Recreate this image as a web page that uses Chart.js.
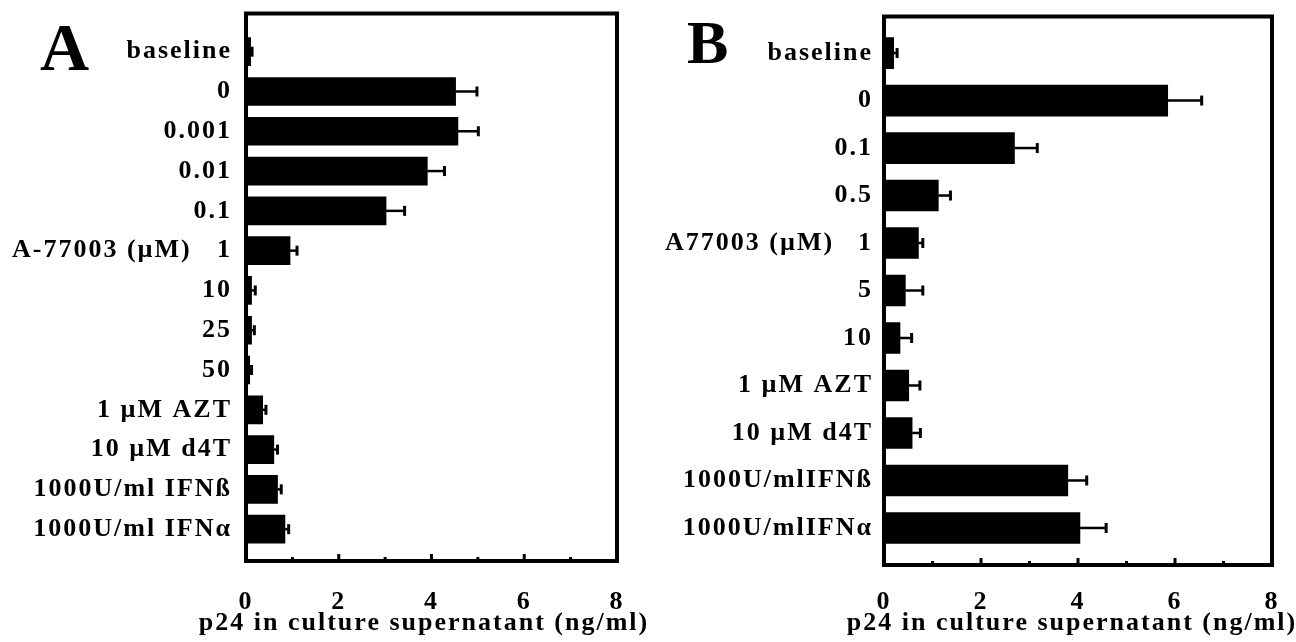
<!DOCTYPE html>
<html>
<head>
<meta charset="utf-8">
<script src="https://cdn.jsdelivr.net/npm/chart.js@4"></script>
<style>
  body { margin: 0; background: #fff; }
  #wrap { position: relative; width: 1296px; height: 642px; }
  canvas { position: absolute; top: 0; }
  #chartA { left: 0; }
  #chartB { left: 650px; }
</style>
</head>
<body>
<div id="wrap">
  <canvas id="chartA" width="650" height="642"></canvas>
  <canvas id="chartB" width="646" height="642"></canvas>
</div>
<script>
// panel A
const labelsA = ['baseline', '0', '0.001', '0.01', '0.1', '1', '10', '25', '50',
  '1 µM AZT', '10 µM d4T', '1000U/ml IFNß', '1000U/ml IFNα'];
const valuesA = [0.1, 4.52, 4.57, 3.91, 3.02, 0.95, 0.12, 0.12, 0.08, 0.36, 0.6, 0.68, 0.84];
const errorsA = [0.03, 0.46, 0.44, 0.37, 0.4, 0.15, 0.08, 0.06, 0.04, 0.07, 0.08, 0.08, 0.08];

// panel B
const labelsB = ['baseline', '0', '0.1', '0.5', '1', '5', '10',
  '1 µM AZT', '10 µM d4T', '1000U/mlIFNß', '1000U/mlIFNα'];
const valuesB = [0.2, 5.85, 2.69, 1.12, 0.71, 0.44, 0.33, 0.51, 0.58, 3.79, 4.04];
const errorsB = [0.07, 0.7, 0.47, 0.25, 0.09, 0.36, 0.24, 0.23, 0.17, 0.39, 0.54];

const xTicks = [0, 2, 4, 6, 8];
const axisTitle = 'p24 in culture supernatant (ng/ml)';
const serif = '"Liberation Serif", "Times New Roman", serif';
const fontSize = 26;

Chart.defaults.font.family = serif;
Chart.defaults.font.weight = 'bold';
Chart.defaults.color = '#000';

const figPlugin = {
  id: 'fig',
  beforeDraw(chart) {
    chart.ctx.letterSpacing = '2px';
  },
  afterDatasetsDraw(chart, args, o) {
    const ctx = chart.ctx;
    const xs = chart.scales.x, ys = chart.scales.y;
    const a = chart.chartArea;
    ctx.save();
    ctx.strokeStyle = '#000';
    // error bars
    o.values.forEach((v, i) => {
      const y = ys.getPixelForValue(i);
      const x0 = xs.getPixelForValue(v);
      const x1 = xs.getPixelForValue(v + o.errors[i]);
      ctx.lineWidth = 2.5;
      ctx.beginPath();
      ctx.moveTo(x0, y);
      ctx.lineTo(x1, y);
      ctx.stroke();
      ctx.lineWidth = 3;
      ctx.beginPath();
      ctx.moveTo(x1, y - 5);
      ctx.lineTo(x1, y + 5);
      ctx.stroke();
    });
    // inward ticks on the bottom axis
    for (let t = 1; t < 8; t++) {
      const x = xs.getPixelForValue(t);
      ctx.lineWidth = 3;
      ctx.beginPath();
      ctx.moveTo(x, a.bottom);
      ctx.lineTo(x, a.bottom - (t % 2 ? 4 : 7));
      ctx.stroke();
    }
    // frame
    ctx.lineWidth = 4;
    ctx.strokeRect(a.left, a.top, a.right - a.left, a.bottom - a.top);
    // group label + axis title
    ctx.fillStyle = '#000';
    ctx.font = 'bold ' + fontSize + 'px ' + serif;
    ctx.textAlign = 'left';
    ctx.textBaseline = 'middle';
    ctx.fillText(o.group, o.groupX, ys.getPixelForValue(o.groupIndex));
    ctx.textAlign = 'center';
    ctx.fillText(axisTitle, o.titleX, o.titleY);
    // panel letter
    ctx.letterSpacing = '0px';
    ctx.font = 'bold ' + o.letterSize + 'px ' + serif;
    ctx.textAlign = 'left';
    ctx.textBaseline = 'alphabetic';
    ctx.fillText(o.letter, o.letterX, o.letterY);
    ctx.restore();
  }
};

function makePanel(id, labels, values, errors, cfg) {
  new Chart(document.getElementById(id), {
    type: 'bar',
    data: {
      datasets: [{
        data: values.map((v, i) => ({ x: v, y: i })),
        backgroundColor: '#000',
        borderWidth: 0,
        barThickness: cfg.barThickness
      }]
    },
    options: {
      indexAxis: 'y',
      responsive: false,
      animation: false,
      devicePixelRatio: 1,
      layout: { padding: { top: cfg.top, right: cfg.right, left: 0, bottom: 0 } },
      plugins: {
        legend: { display: false },
        tooltip: { enabled: false },
        fig: {
          values: values, errors: errors,
          group: cfg.group, groupX: cfg.groupX, groupIndex: labels.indexOf('1'),
          titleX: cfg.titleX, titleY: 623,
          letter: cfg.letter, letterX: cfg.letterX, letterY: cfg.letterY, letterSize: cfg.letterSize
        }
      },
      scales: {
        y: {
          type: 'linear',
          reverse: true,
          offset: false,
          min: cfg.yMin,
          max: cfg.yMax,
          grid: { display: false, drawTicks: false, offset: false },
          border: { display: false },
          afterBuildTicks: s => { s.ticks = labels.map((_, i) => ({ value: i })); },
          afterFit: s => {
            s.width = cfg.yWidth;
            s.paddingTop = 0;
            s.paddingBottom = 0;
          },
          ticks: {
            autoSkip: false,
            padding: cfg.yPad,
            font: { size: fontSize, weight: 'bold' },
            callback: v => labels[v]
          }
        },
        x: {
          type: 'linear',
          min: 0,
          max: 8,
          grid: { display: false, drawTicks: false },
          border: { display: false },
          afterBuildTicks: s => { s.ticks = xTicks.map(v => ({ value: v })); },
          afterFit: s => {
            s.height = cfg.xHeight;
            s.paddingLeft = 0;
            s.paddingRight = 0;
          },
          ticks: { padding: cfg.xPad, font: { size: fontSize, weight: 'bold' } }
        }
      }
    },
    plugins: [figPlugin]
  });
}

makePanel('chartA', labelsA, valuesA, errorsA, {
  top: 13.5, right: 33, yWidth: 246, xHeight: 81, yPad: 14, xPad: 26,
  yMin: -0.96, yMax: 12.8, barThickness: 28,
  group: 'A-77003 (µM)', groupX: 12, titleX: 424,
  letter: 'A', letterX: 40, letterY: 70, letterSize: 68
});

makePanel('chartB', labelsB, valuesB, errorsB, {
  top: 16.5, right: 24, yWidth: 234, xHeight: 77, yPad: 11, xPad: 22,
  yMin: -0.77, yMax: 10.78, barThickness: 31,
  group: 'A77003 (µM)', groupX: 15, titleX: 422,
  letter: 'B', letterX: 37, letterY: 63, letterSize: 62
});
</script>
</body>
</html>
